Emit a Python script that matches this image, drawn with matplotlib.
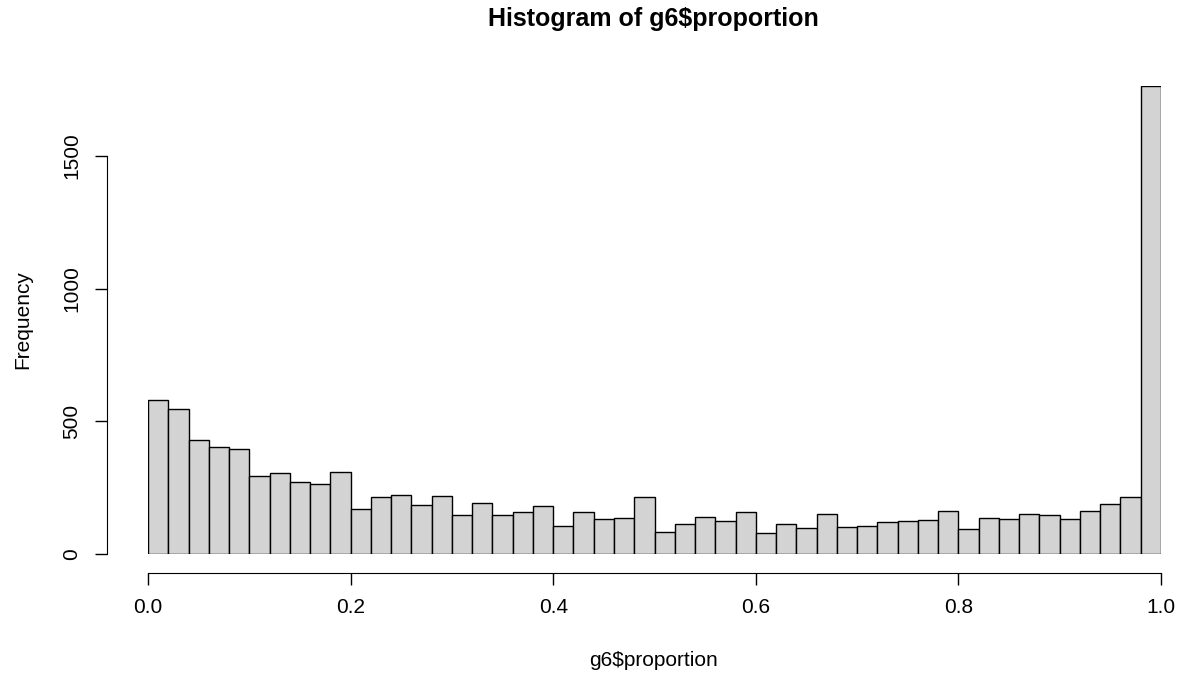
import numpy as np
import matplotlib.pyplot as plt

plt.rcParams['font.family'] = ['Liberation Sans', 'DejaVu Sans']

# ------------------------
# Data (counts, 50 bins of width 0.02 on [0, 1])
# ------------------------
counts = [581, 548, 429, 405, 397, 294, 304, 270, 263, 308,
          171, 214, 221, 184, 217, 148, 191, 148, 157, 180,
          106, 157, 133, 137, 214, 84, 114, 141, 126, 160,
          79, 114, 98, 150, 103, 107, 119, 126, 130, 163,
          94, 137, 133, 152, 146, 133, 163, 190, 214, 1765]
x_ticks = [0.0, 0.2, 0.4, 0.6, 0.8, 1.0]
x_tick_labels = ['0.0', '0.2', '0.4', '0.6', '0.8', '1.0']
y_ticks = [0, 500, 1000, 1500]
y_tick_labels = ['0', '500', '1000', '1500']

edges = np.linspace(0, 1, len(counts) + 1)

# ------------------------
# Plot (R base-graphics look)
# ------------------------
W, H = 1180, 673
px = 0.72  # points per pixel at dpi 100
fig = plt.figure(figsize=(W / 100, H / 100), dpi=100)
ax = fig.add_axes([148 / W, (H - 554) / H, 1013 / W, (554 - 85.7) / H])

ax.bar(edges[:-1], counts, width=np.diff(edges), align='edge',
       color='#d3d3d3', edgecolor='black', linewidth=1.0)

ax.set_xlim(0, 1)
ax.set_ylim(0, max(counts))

for s in ['top', 'right']:
    ax.spines[s].set_visible(False)
ax.spines['bottom'].set_position(('outward', 19 * px))
ax.spines['left'].set_position(('outward', 41 * px))
ax.spines['bottom'].set_bounds(0, 1)
ax.spines['left'].set_bounds(0, 1500)

ax.set_xticks(x_ticks)
ax.set_xticklabels(x_tick_labels)
ax.set_yticks(y_ticks)
ax.set_yticklabels(y_tick_labels, rotation=90, va='center')
ax.tick_params(axis='both', length=12 * px, width=1, labelsize=15)
ax.tick_params(axis='x', pad=13 * px)
ax.tick_params(axis='y', pad=14 * px)

fig.text(654 / W, 1 - 660 / H, r'g6\$proportion', ha='center', va='center', fontsize=15)
fig.text(23 / W, 1 - 320 / H, 'Frequency', ha='center', va='center',
         rotation=90, fontsize=15)
fig.text(653 / W, 1 - 19 / H, r'Histogram of g6\$proportion',
         ha='center', va='center', fontsize=18, fontweight='bold')

fig.savefig('out.png', dpi=100)
